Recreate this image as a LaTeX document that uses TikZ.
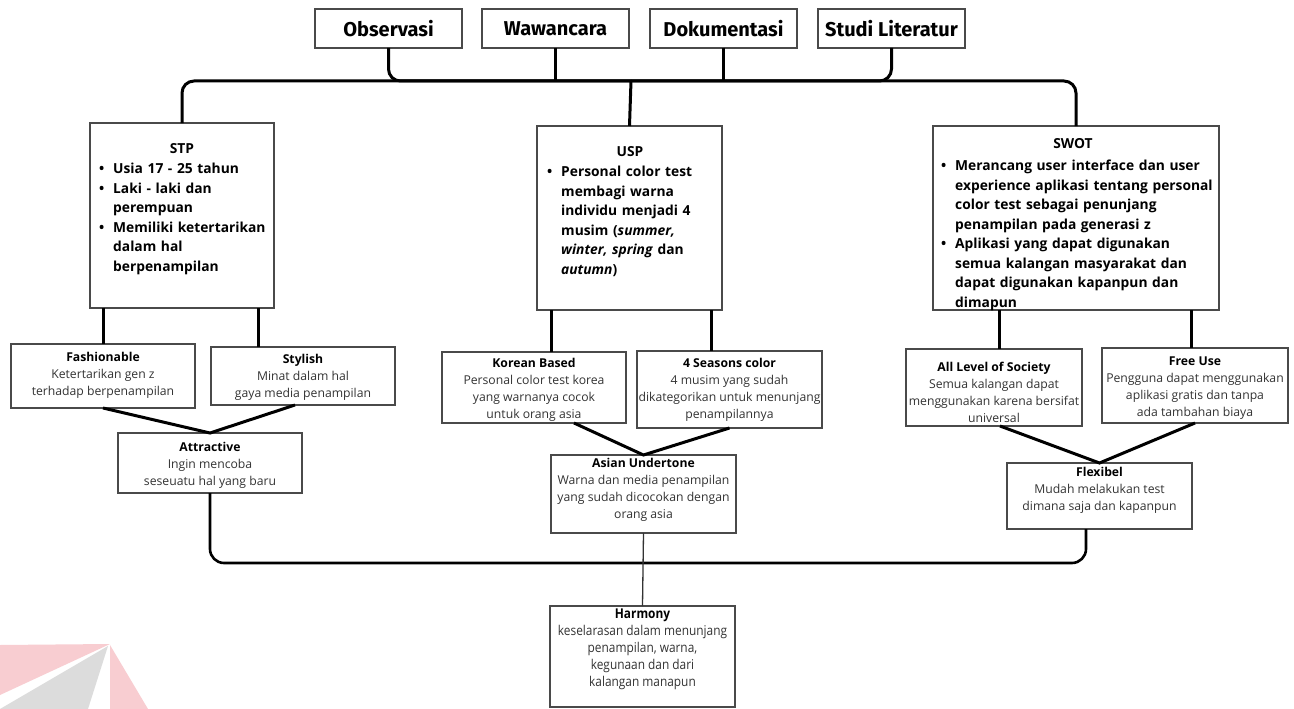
\documentclass[tikz,border=0pt]{standalone}
\usepackage{fontspec}
\setmainfont{Open Sans}
\newfontfamily\topfont{Fira Sans}
\newfontfamily\condfont[FakeStretch=0.88]{Open Sans}
\usetikzlibrary{calc}
\definecolor{boxgrey}{HTML}{4A4A4A}
\definecolor{txtgrey}{HTML}{333333}
\definecolor{wmpink}{HTML}{F8CDD1}
\definecolor{wmgrey}{HTML}{DCDCDC}
\newcommand\bitem[1]{\par\hangindent=14pt\hangafter=1\noindent\makebox[14pt][l]{\strut\textbullet}#1}
\newcommand\nl{\newline}
\newcommand\bulletfont{\fontsize{13.8}{19.5}\selectfont\bfseries}
\newcommand\lowfont{\fontsize{12.2}{17}\selectfont}
\newcommand\harmfont{\condfont\fontsize{13.5}{17}\selectfont}
\tikzset{
  box/.style={draw=boxgrey, line width=1.4pt, inner sep=0pt, outer sep=0pt, anchor=north west},
  topbox/.style={box, minimum width=147pt, minimum height=39pt, font=\topfont\fontsize{20}{24}\selectfont\bfseries, text=black},
  bul/.style={anchor=north west, inner sep=0pt, text width=#1, align=left, font=\bulletfont, text=black},
  ttl/.style={anchor=base, inner sep=0pt, font=\bulletfont, text=black},
  low/.style={anchor=north, inner sep=0pt, align=center, font=\lowfont, text=txtgrey},
  conn/.style={draw=black, line width=3pt, rounded corners=12pt},
  conn2/.style={draw=black, line width=2.6pt, rounded corners=14pt},
  connthin/.style={draw=black!80, line width=1.3pt},
}
\begin{document}
\begin{tikzpicture}[x=1pt, y=-1pt]
\useasboundingbox (0,0) rectangle (1294,709);
\fill[white] (0,0) rectangle (1294,709);
% watermark
\fill[wmpink] (0,645) -- (110,644) -- (0,695) -- cycle;
\fill[wmgrey] (108,646) -- (88,709) -- (0,709) -- cycle;
\fill[wmpink] (110,645) -- (110,709) -- (148,709) -- cycle;

% top boxes
\node[topbox] (obs) at (315,9) {Observasi};
\node[topbox] (waw) at (482,9) {Wawancara};
\node[topbox] (dok) at (650,9) {Dokumentasi};
\node[topbox] (stu) at (818,9) {Studi Literatur};

% second row
\node[box, minimum width=184pt, minimum height=185pt] (stp) at (90,123) {};
\node[ttl] (stpT) at (182,153.2) {STP};
\node[bul=175pt] (stpB) at (99,154) {\bitem{Usia 17 - 25 tahun}\bitem{Laki - laki dan\nl perempuan}\bitem{Memiliki ketertarikan\nl dalam hal\nl berpenampilan}\par};

\node[box, minimum width=185pt, minimum height=184pt] (usp) at (537,126) {};
\node[ttl] (uspT) at (630,156.6) {USP};
\node[bul=170pt] (uspB) at (547,157) {\bitem{Personal color test\nl membagi warna\nl individu menjadi 4\nl musim (\textit{summer,}\nl \textit{winter, spring} dan\nl \textit{autumn})}\par};

\node[box, minimum width=286pt, minimum height=184pt] (swot) at (933,126) {};
\node[ttl] (swotT) at (1073,148.2) {SWOT};
\node[bul=275pt] (swotB) at (941,151) {\bitem{Merancang user interface dan user\nl experience aplikasi tentang personal\nl color test sebagai penunjang\nl penampilan pada generasi z}\bitem{Aplikasi yang dapat digunakan\nl semua kalangan masyarakat dan\nl dapat digunakan kapanpun dan\nl dimapun}\par};

% third row
\node[box, minimum width=184pt, minimum height=64pt] (fash) at (11,344) {};
\node[low] (fashT) at (103,349.1) {{\strut\bfseries\color{black}Fashionable}\\Ketertarikan gen z\\terhadap berpenampilan};
\node[box, minimum width=184pt, minimum height=58pt] (sty) at (211,347) {};
\node[low] (styT) at (303,351.1) {{\strut\bfseries\color{black}Stylish}\\Minat dalam hal\\gaya media penampilan};
\node[box, minimum width=184pt, minimum height=60pt] (attr) at (118,433) {};
\node[low] (attrT) at (210,439.1) {{\strut\bfseries\color{black}Attractive}\\Ingin mencoba\\seseuatu hal yang baru};

\node[box, minimum width=184pt, minimum height=71pt] (kor) at (442,352) {};
\node[low] (korT) at (534,355.1) {{\strut\bfseries\color{black}Korean Based}\\Personal color test korea\\yang warnanya cocok\\untuk orang asia};
\node[box, minimum width=185pt, minimum height=77pt] (sea) at (637,351) {};
\node[low] (seaT) at (729.5,355.1) {{\strut\bfseries\color{black}4 Seasons color}\\4 musim yang sudah\\dikategorikan untuk menunjang\\penampilannya};
\node[box, minimum width=185pt, minimum height=78pt] (asi) at (551,455) {};
\node[low] (asiT) at (643.5,455.6) {{\strut\bfseries\color{black}Asian Undertone}\\Warna dan media penampilan\\yang sudah dicocokan dengan\\orang asia};

\node[box, minimum width=176pt, minimum height=77pt] (all) at (906,349) {};
\node[low] (allT) at (994,359.1) {{\strut\bfseries\color{black}All Level of Society}\\Semua kalangan dapat\\menggunakan karena bersifat\\universal};
\node[box, minimum width=186pt, minimum height=75pt] (fre) at (1102,348) {};
\node[low] (freT) at (1195,353.1) {{\strut\bfseries\color{black}Free Use}\\Pengguna dapat menggunakan\\aplikasi gratis dan tanpa\\ada tambahan biaya};
\node[box, minimum width=185pt, minimum height=66pt] (flx) at (1007,463) {};
\node[low] (flxT) at (1099.5,464.1) {{\strut\bfseries\color{black}Flexibel}\\Mudah melakukan test\\dimana saja dan kapanpun};

% harmony
\node[box, minimum width=185pt, minimum height=101pt] (har) at (550,606) {};
\node[low, font=\harmfont] (harT) at (642.5,606.5) {{\strut\bfseries\color{black}Harmony}\\keselarasan dalam menunjang\\penampilan, warna,\\kegunaan dan dari\\kalangan manapun};

% helper coordinates
\coordinate (busM) at (631,81);
\coordinate (busR) at (swot.north |- busM);
\coordinate (xs) at (258,0);
\coordinate (xk1) at (551,0);
\coordinate (xk2) at (711,0);
\coordinate (xw1) at (999,0);
\coordinate (xw2) at (1191,0);
\coordinate (xsb) at (295,0);
\coordinate (xkb) at (574,0);
\coordinate (xab) at (1000,0);
\coordinate (busB) at (1086,563);

% top connectors
\draw[conn] (obs.south) |- (busM);
\draw[conn] (stu.south) |- (busM);
\draw[conn] (waw.south) -- (waw.south |- busM);
\draw[conn] (dok.south) -- (dok.south |- busM);
\draw[conn] (stp.north) |- (busR) -- (swot.north);
\draw[conn] (busM) -- (usp.north);

% second to third row
\draw[conn] (stp.south -| fash.north) -- (fash.north);
\draw[conn] (stp.south -| xs) -- (sty.north -| xs);
\draw[conn] (usp.south -| xk1) -- (kor.north -| xk1);
\draw[conn] (usp.south -| xk2) -- (sea.north -| xk2);
\draw[conn] (swot.south -| xw1) -- (all.north -| xw1);
\draw[conn] (swot.south -| xw2) -- (fre.north -| xw2);

% merges
\draw[conn, rounded corners=0pt] (fash.south) -- (attr.north) -- (sty.south -| xsb);
\draw[conn, rounded corners=0pt] (kor.south -| xkb) -- (asi.north) -- (sea.south);
\draw[conn, rounded corners=0pt] (all.south -| xab) -- (flx.north) -- (fre.south);

% bottom bus
\draw[conn2] (attr.south) |- (busB) -- (flx.south -| busB);
\draw[connthin] (asi.south) -- (har.north);
\end{tikzpicture}
\end{document}
